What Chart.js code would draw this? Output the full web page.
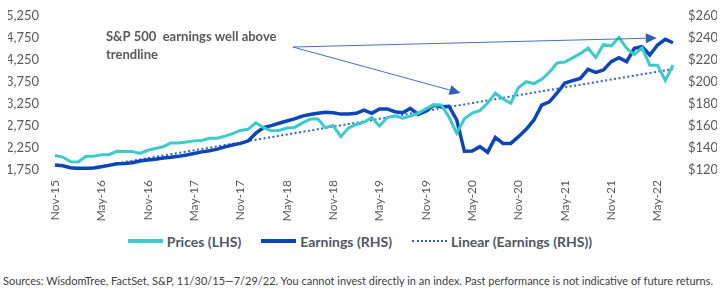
<!DOCTYPE html>
<html>
<head>
<meta charset="utf-8">
<script src="https://cdn.jsdelivr.net/npm/chart.js@4.4.1/dist/chart.umd.min.js"></script>
<style>
  html, body { margin: 0; padding: 0; background: #fff; }
  #page { width: 720px; height: 291px; position: relative; font-family: Lato, sans-serif; }
  #wrap { position: absolute; left: 0; top: 0; width: 720px; height: 223px; }
  #legend { position: absolute; left: 0; top: 232px; width: 720px; height: 18px;
            display: flex; justify-content: center; align-items: center;
            font: bold 14px Lato, sans-serif; color: #4f5862; }
  #legend .item { display: flex; align-items: center; margin: 0 10px; }
  #legend .swatch { width: 35px; margin-right: 4px; }
  #source { position: absolute; left: 3px; top: 274px; white-space: nowrap;
            font: 11px Lato, sans-serif; color: #404040; }
</style>
</head>
<body>
<div id="page">
  <div id="wrap"><canvas id="chart"></canvas></div>
  <div id="legend"></div>
  <div id="source"></div>
</div>
<script>
// Month labels, Nov-15 .. Jul-22
const months = [
    'Nov-15','Dec-15',
    'Jan-16','Feb-16','Mar-16','Apr-16','May-16','Jun-16','Jul-16','Aug-16','Sep-16','Oct-16','Nov-16','Dec-16',
    'Jan-17','Feb-17','Mar-17','Apr-17','May-17','Jun-17','Jul-17','Aug-17','Sep-17','Oct-17','Nov-17','Dec-17',
    'Jan-18','Feb-18','Mar-18','Apr-18','May-18','Jun-18','Jul-18','Aug-18','Sep-18','Oct-18','Nov-18','Dec-18',
    'Jan-19','Feb-19','Mar-19','Apr-19','May-19','Jun-19','Jul-19','Aug-19','Sep-19','Oct-19','Nov-19','Dec-19',
    'Jan-20','Feb-20','Mar-20','Apr-20','May-20','Jun-20','Jul-20','Aug-20','Sep-20','Oct-20','Nov-20','Dec-20',
    'Jan-21','Feb-21','Mar-21','Apr-21','May-21','Jun-21','Jul-21','Aug-21','Sep-21','Oct-21','Nov-21','Dec-21',
    'Jan-22','Feb-22','Mar-22','Apr-22','May-22','Jun-22','Jul-22'
];

// S&P 500 price level (left axis)
const prices = [
    2080, 2044,
    1940, 1932, 2060, 2065, 2097, 2099, 2174, 2171, 2168, 2126, 2199, 2239,
    2279, 2364, 2363, 2384, 2412, 2423, 2470, 2472, 2519, 2575, 2648, 2674,
    2824, 2714, 2641, 2648, 2705, 2718, 2816, 2902, 2914, 2712, 2760, 2507,
    2704, 2784, 2834, 2946, 2752, 2942, 2980, 2926, 2977, 3038, 3141, 3231,
    3226, 2954, 2585, 2912, 3044, 3100, 3271, 3500, 3363, 3270, 3622, 3756,
    3714, 3811, 3973, 4181, 4204, 4298, 4395, 4523, 4308, 4605, 4567, 4766,
    4516, 4374, 4530, 4132, 4132, 3785, 4130
];

// earnings per share (right axis, $)
const earnings = [
    124.5, 123.9,
    122.1, 121.5, 121.5, 121.8, 123.0, 124.2, 125.7, 126.0, 126.6, 128.2, 129.0, 129.7,
    130.9, 131.5, 132.4, 133.6, 135.0, 136.5, 137.5, 139.0, 141.0, 142.7, 144.2, 146.4,
    153.5, 158.5, 160.3, 162.5, 164.5, 166.5, 169.0, 170.5, 171.5, 172.4, 172.0, 170.8,
    171.0, 171.5, 174.5, 171.5, 175.5, 175.5, 173.0, 172.0, 176.0, 170.5, 173.5, 178.8,
    177.5, 178.0, 165.5, 137.0, 137.3, 141.2, 136.1, 149.7, 144.2, 144.2, 150.3, 157.0,
    165.5, 179.0, 182.0, 190.0, 199.0, 201.2, 203.3, 211.5, 208.8, 210.9, 218.5, 222.1,
    218.5, 230.6, 232.1, 224.5, 233.6, 238.8, 235.7
];

const leftTicks = { min: 1750, max: 5250, step: 500 };
const rightTicks = { min: 120, max: 260, step: 20 };

const noteLines = ['S&P 500  earnings well above', 'trendline'];
const sourceText = 'Sources: WisdomTree, FactSet, S&P, 11/30/15\u20147/29/22. You cannot invest directly in an index. Past performance is not indicative of future returns.';

// least-squares trendline of earnings (what "Linear (Earnings (RHS))" is)
function linearFit(values) {
    const n = values.length;
    let sx = 0, sy = 0, sxy = 0, sxx = 0;
    values.forEach((v, i) => { sx += i; sy += v; sxy += i * v; sxx += i * i; });
    const b = (n * sxy - sx * sy) / (n * sxx - sx * sx);
    const a = (sy - b * sx) / n;
    return values.map((v, i) => a + b * i);
}
const trend = linearFit(earnings);

const grey = '#595959';
const colors = { prices: '#3CCACC', earnings: '#0B45B8', linear: '#2A66D0' };

// callout text with two arrows, placed via the scales
const calloutPlugin = {
    id: 'callout',
    afterDatasetsDraw(chart) {
        const { ctx, scales } = chart;
        const x = scales.x, y1 = scales.y1;
        const px = (i) => x.getPixelForValue(i);
        const py = (v) => y1.getPixelForValue(v);

        ctx.save();
        ctx.fillStyle = grey;
        ctx.font = 'bold 13px Lato, sans-serif';
        ctx.textBaseline = 'middle';
        ctx.fillText(noteLines[0], px(6.6), py(241));
        ctx.fillText(noteLines[1], px(6.6), py(224.5));

        const start = [px(30.8), py(231.8)];
        const heads = [[px(52.5), py(190)], [px(77.9), py(240)]];
        ctx.strokeStyle = '#4472C4';
        ctx.fillStyle = '#2F5FB8';
        ctx.lineWidth = 1;
        heads.forEach(h => {
            const ang = Math.atan2(h[1] - start[1], h[0] - start[0]);
            const len = 11, wid = 5;
            const bx = h[0] - len * Math.cos(ang), by = h[1] - len * Math.sin(ang);
            ctx.beginPath();
            ctx.moveTo(start[0], start[1]);
            ctx.lineTo(bx, by);
            ctx.stroke();
            ctx.beginPath();
            ctx.moveTo(h[0], h[1]);
            ctx.lineTo(bx + wid * Math.sin(ang), by - wid * Math.cos(ang));
            ctx.lineTo(bx - wid * Math.sin(ang), by + wid * Math.cos(ang));
            ctx.closePath();
            ctx.fill();
        });
        ctx.restore();
    }
};

const tickFont = { family: 'Lato, sans-serif', size: 13 };

const ctx = document.getElementById('chart').getContext('2d');
const chart = new Chart(ctx, {
    type: 'line',
    data: {
        labels: months,
        datasets: [
            {
                label: 'Prices (LHS)',
                data: prices,
                yAxisID: 'y',
                borderColor: colors.prices,
                borderWidth: 3,
                pointRadius: 0,
                tension: 0
            },
            {
                label: 'Earnings (RHS)',
                data: earnings,
                yAxisID: 'y1',
                borderColor: colors.earnings,
                borderWidth: 3.5,
                pointRadius: 0,
                tension: 0
            },
            {
                label: 'Linear (Earnings (RHS))',
                data: trend,
                yAxisID: 'y1',
                borderColor: colors.linear,
                borderWidth: 2,
                borderDash: [2, 2.5],
                pointRadius: 0,
                tension: 0
            }
        ]
    },
    options: {
        responsive: true,
        maintainAspectRatio: false,
        animation: false,
        layout: { padding: { top: 16, left: 8, right: 3, bottom: 2 } },
        scales: {
            x: {
                grid: { display: false, drawTicks: false },
                border: { display: false },
                ticks: {
                    color: grey,
                    font: { family: 'Lato, sans-serif', size: 12 },
                    autoSkip: false,
                    minRotation: 90,
                    maxRotation: 90,
                    padding: 10,
                    callback: (v, i) => (i % 6 === 0 ? months[i] : '')
                },
                afterFit: (s) => { s.paddingLeft = 0; s.paddingRight = 0; s.height = 51; }
            },
            y: {
                position: 'left',
                min: leftTicks.min,
                max: leftTicks.max,
                grid: { display: false, drawTicks: false },
                border: { display: false },
                ticks: {
                    stepSize: leftTicks.step,
                    autoSkip: false,
                    color: grey,
                    padding: 16,
                    font: tickFont,
                    callback: v => v.toLocaleString('en-US')
                },
                afterFit: (s) => { s.width = 47; s.paddingTop = 0; s.paddingBottom = 0; }
            },
            y1: {
                position: 'right',
                min: rightTicks.min,
                max: rightTicks.max,
                grid: { display: false, drawTicks: false },
                border: { display: false },
                ticks: {
                    stepSize: rightTicks.step,
                    autoSkip: false,
                    color: grey,
                    padding: 15,
                    font: tickFont,
                    callback: v => '$' + v
                },
                afterFit: (s) => { s.width = 44; s.paddingTop = 0; s.paddingBottom = 0; }
            }
        },
        plugins: {
            legend: { display: false },
            tooltip: { enabled: false }
        }
    },
    plugins: [calloutPlugin]
});

// legend built from the datasets
const legendEl = document.getElementById('legend');
chart.data.datasets.forEach(ds => {
    const item = document.createElement('div');
    item.className = 'item';
    const sw = document.createElement('span');
    sw.className = 'swatch';
    if (ds.borderDash) {
        sw.style.borderTop = '2px dotted ' + ds.borderColor;
    } else {
        sw.style.borderTop = '4px solid ' + ds.borderColor;
    }
    const txt = document.createElement('span');
    txt.innerText = ds.label;
    item.appendChild(sw);
    item.appendChild(txt);
    legendEl.appendChild(item);
});

document.getElementById('source').innerText = sourceText;
</script>
</body>
</html>
